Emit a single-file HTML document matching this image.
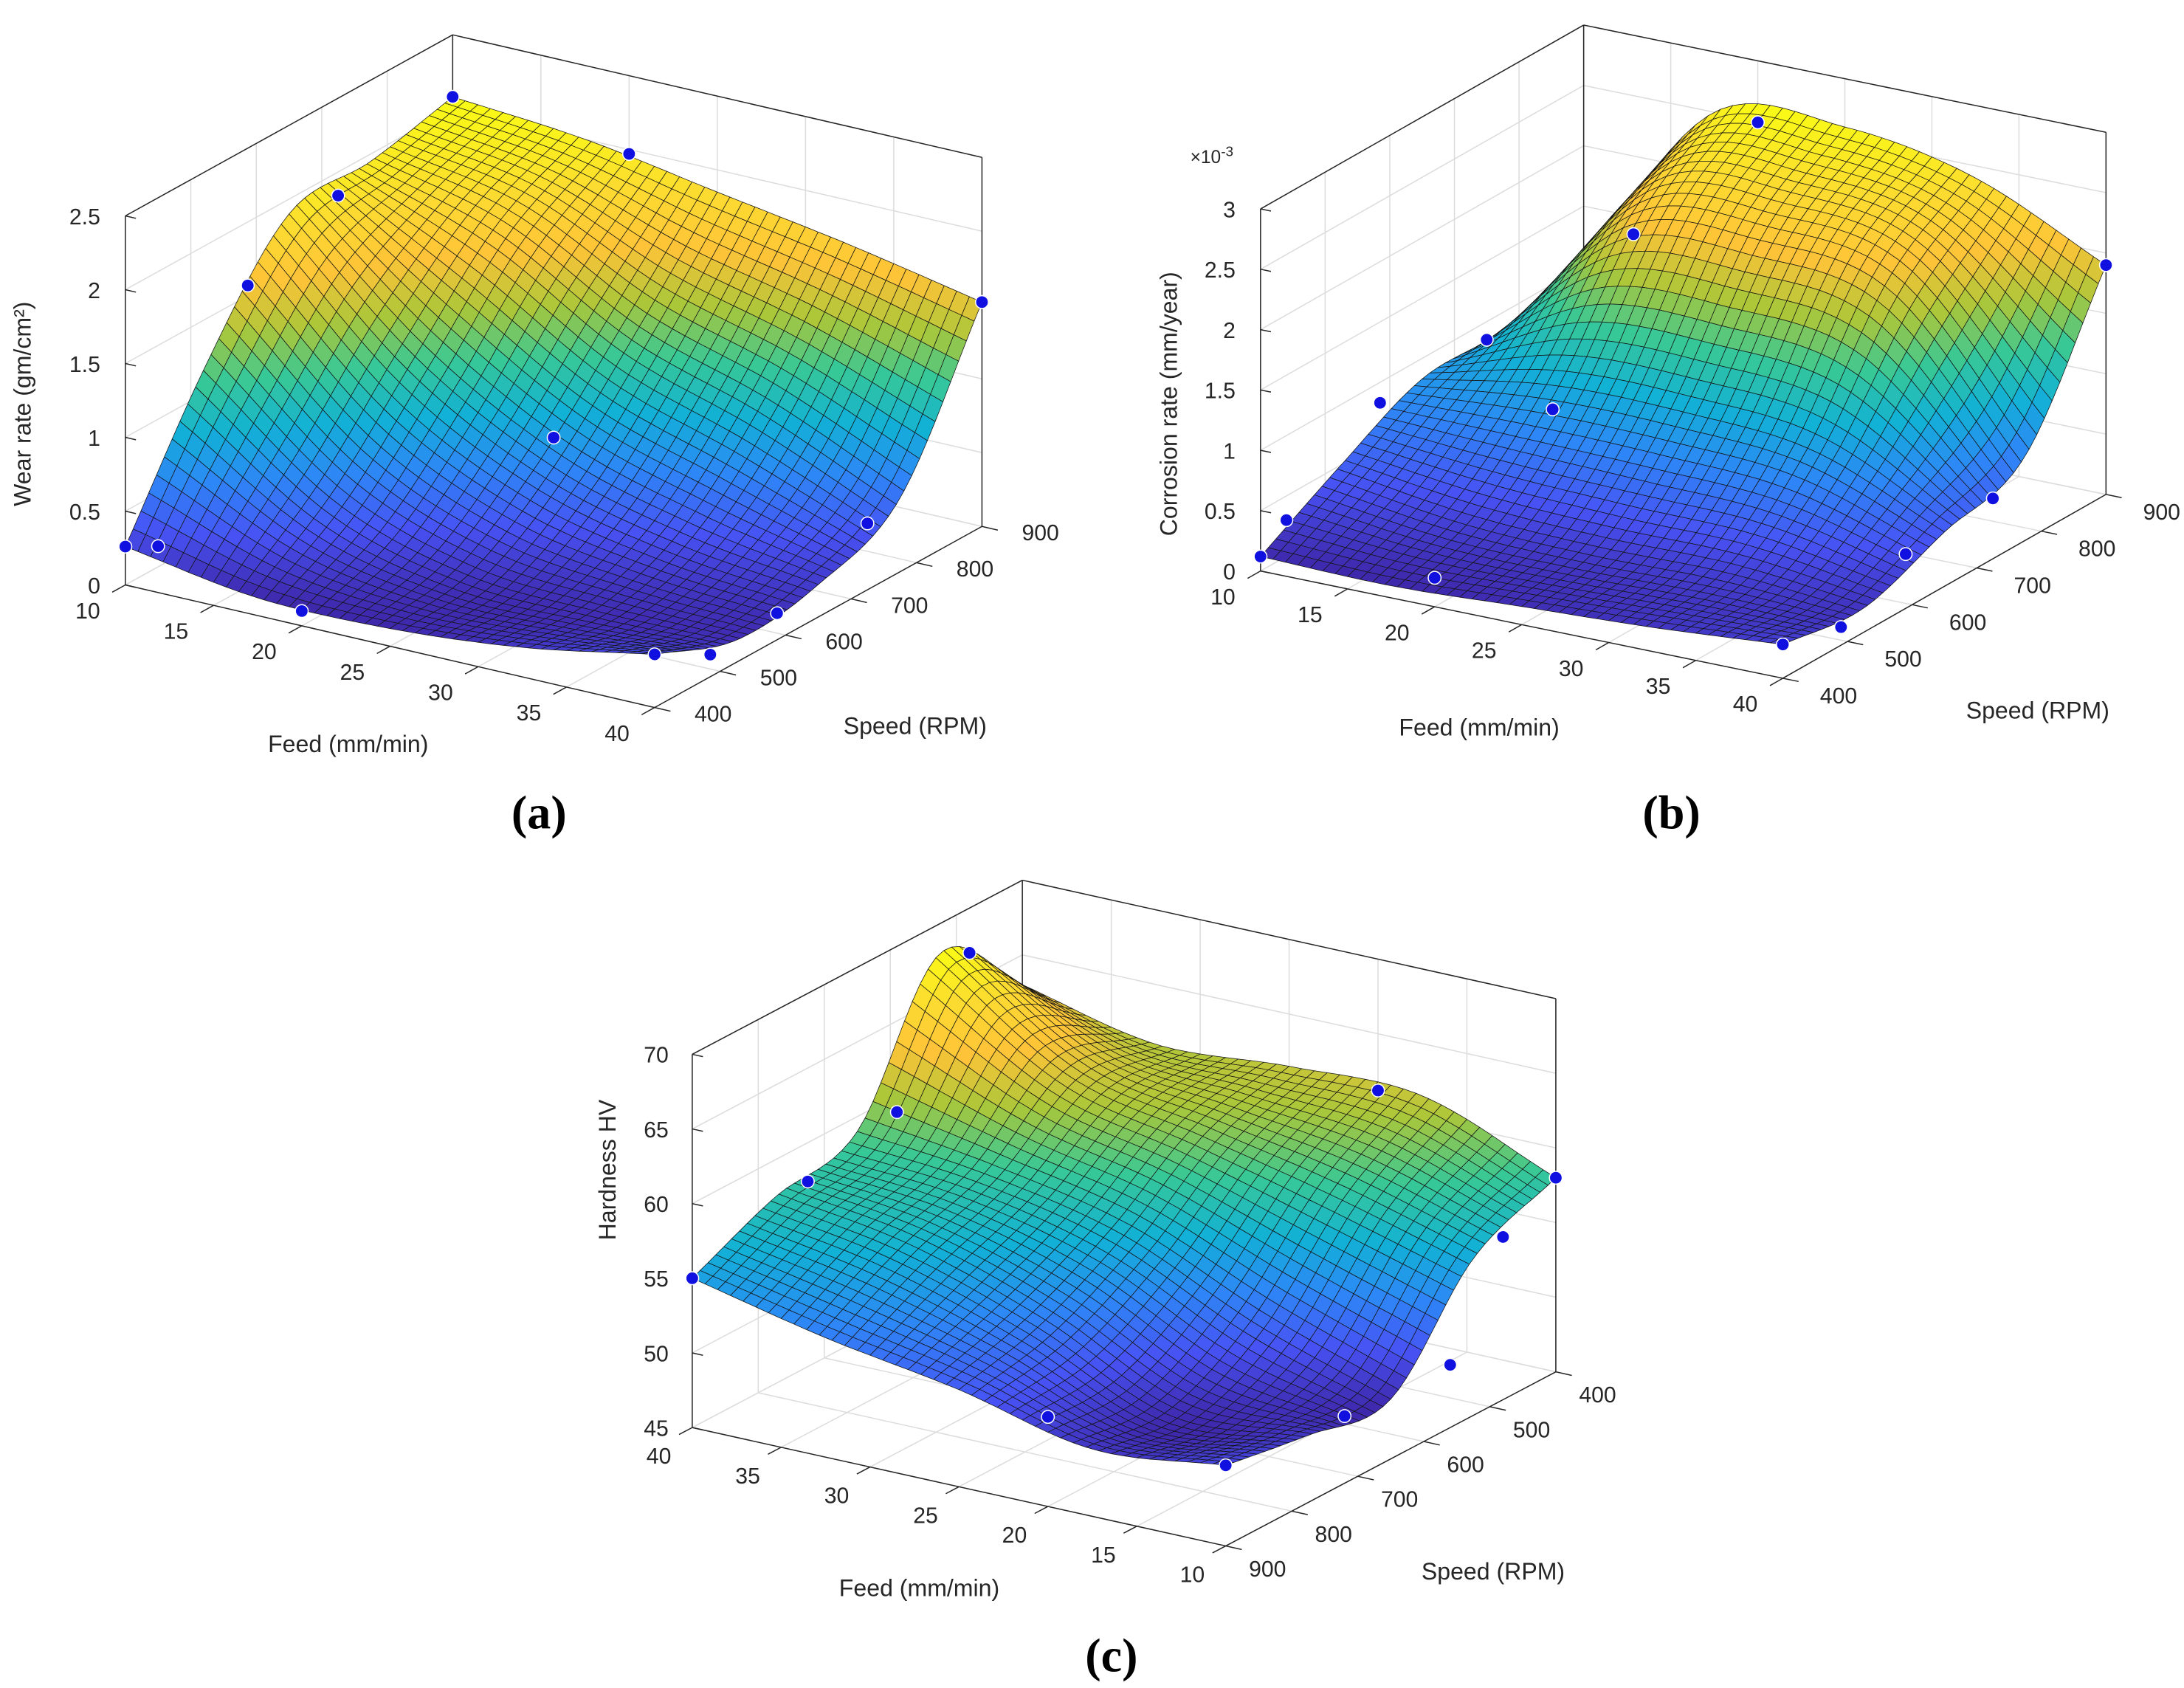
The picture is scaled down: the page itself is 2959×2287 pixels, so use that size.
<!DOCTYPE html>
<html><head><meta charset="utf-8"><style>
html,body{margin:0;padding:0;background:#fff;}
svg{display:block;}
text{font-family:"Liberation Sans",sans-serif;fill:#262626;}
.cap{font-family:"Liberation Serif",serif;font-weight:bold;fill:#000;}
</style></head><body>
<svg id="fig" xmlns="http://www.w3.org/2000/svg" width="2959" height="2287" viewBox="0 0 1568 1212" preserveAspectRatio="none">
<text class="cap" x="387" y="595" font-size="34" text-anchor="middle">(a)</text>
<text class="cap" x="1200" y="595" font-size="34" text-anchor="middle">(b)</text>
<text class="cap" x="798" y="1200" font-size="34" text-anchor="middle">(c)</text>
</svg>
<script>
const feedLevels=[10,17.5,25,32.5,40];
const speedLevels=[400,525,650,775,900];
const feedTicks=[10,15,20,25,30,35,40];
const speedTicks=[400,500,600,700,800,900];
const wearRate=[
[0.26,1.2,1.9,1.95,2.08],
[0.12,0.5,1.1,1.7,2.0],
[0.12,0.2,0.6,1.2,1.85],
[0.2,0.15,0.35,0.9,1.7],
[0.36,0.15,0.22,0.5,1.52]];
const corrosionRate=[
[0.12,0.5,0.83,0.85,1.05],
[0.1,0.35,1.0,2.0,2.5],
[0.15,0.3,1.0,2.1,2.6],
[0.2,0.3,0.9,1.9,2.4],
[0.28,0.2,0.45,0.7,1.9]];
const hardness=[
[58,55.5,49,49.5,50.4],
[61.5,58,52,49,49.5],
[61.5,60,56,53,51.5],
[61,62,58,56,53],
[63,68,59,57.5,55]];
const wearDots=[[10,400,0.26],[10,450,0.14],[10,587,1.57],[10,725,1.84],[10,900,2.08],[20,900,1.97],[40,900,1.52],[40,725,0.45],[40,587,0.18],[40,485,0.15],[40,400,0.36],[20,400,0.1],[25,650,0.8]];
const corrosionDots=[[10,400,0.12],[10,440,0.3],[10,585,0.83],[10,750,0.85],[20,900,2.49],[40,900,1.9],[40,400,0.28],[40,490,0.15],[40,590,0.45],[40,725,0.5],[20,400,0.24],[17.5,775,1.87],[17.5,650,0.8]];
const hardnessDots=[[40,900,55],[10,900,50.4],[10,400,58],[10,480,55.9],[10,560,49.2],[10,720,49.5],[20,400,61.2],[40,480,67],[40,590,58.9],[40,725,57.4],[20,900,51]];
const zTicksA=[0,0.5,1,1.5,2,2.5];
const zTicksB=[0,0.5,1,1.5,2,2.5,3];
const zTicksC=[45,50,55,60,65,70];

const charts=[
{key:'wear',grid:wearRate,dots:wearDots,zt:zTicksA,O:[90,420],fV:[380,88],sV:[235,-130],zMin:0,zMax:2.5,zPx:265,rev:false,
 zLab:'Wear rate (gm/cm²)',zLabPos:[22,290],zLX:72,fLab:[250,540],sLab:[657,527],fOff:[-27,24],sOff:[42,10]},
{key:'corrosion',grid:corrosionRate,dots:corrosionDots,zt:zTicksB,O:[905,410],fV:[375,77],sV:[232,-132],zMin:0,zMax:3,zPx:260,rev:false,
 zLab:'Corrosion rate (mm/year)',zLabPos:[845,290],zLX:887,fLab:[1062,528],sLab:[1463,516],fOff:[-27,24],sOff:[40,18],exp:true},
{key:'hardness',grid:hardness,dots:hardnessDots,zt:zTicksC,O:[497,1025],fV:[383,85],sV:[237,-125],zMin:45,zMax:70,zPx:268,rev:true,
 zLab:'Hardness HV',zLabPos:[442,840],zLX:480,fLab:[660,1146],sLab:[1072,1134],fOff:[-24,26],sOff:[30,22]}
];
const NS='http://www.w3.org/2000/svg';
const svg=document.getElementById('fig');
function el(tag,attrs,parent){const e=document.createElementNS(NS,tag);for(const k in attrs)e.setAttribute(k,attrs[k]);(parent||svg).appendChild(e);return e;}
const parula=[[0,.2422,.1504,.6603],[.125,.2810,.3228,.9579],[.25,.1786,.5289,.9682],[.375,.0689,.6948,.8394],[.5,.2161,.7843,.5923],[.625,.6720,.7793,.2227],[.75,.9970,.7659,.2199],[.875,.9900,.8600,.1900],[1,.9769,.9839,.0805]];
function cmap(t){t=Math.max(0,Math.min(1,t));for(let i=0;i<parula.length-1;i++){const a=parula[i],b=parula[i+1];if(t<=b[0]){const f=(t-a[0])/(b[0]-a[0]);return 'rgb('+[1,2,3].map(k=>Math.round(255*(a[k]+(b[k]-a[k])*f))).join(',')+')';}}return 'rgb(249,251,20)';}
function cr(p,t){const [p0,p1,p2,p3]=p;return 0.5*((2*p1)+(-p0+p2)*t+(2*p0-5*p1+4*p2-p3)*t*t+(-p0+3*p1-3*p2+p3)*t*t*t);}
function samp(arr,x){const n=arr.length;const s=x*(n-1);let i=Math.min(n-2,Math.floor(s));const t=s-i;const g=k=>{if(k<0)return 2*arr[0]-arr[1];if(k>n-1)return 2*arr[n-1]-arr[n-2];return arr[k];};return cr([g(i-1),g(i),g(i+1),g(i+2)],t);}
function surf(grid,u,v){const col=grid.map(r=>samp(r,v));return samp(col,u);}
charts.forEach(c=>{
 const g=el('g',{});
 
 
 const fu=f=>c.rev?(40-f)/30:(f-10)/30;
 const sv=s=>c.rev?(900-s)/500:(s-400)/500;
 const P=(u,v,z)=>[c.O[0]+u*c.fV[0]+v*c.sV[0],c.O[1]+u*c.fV[1]+v*c.sV[1]-(z-c.zMin)/(c.zMax-c.zMin)*c.zPx];
 const line=(a,b,st,w,name)=>{const l=el('line',{x1:a[0],y1:a[1],x2:b[0],y2:b[1],stroke:st,'stroke-width':w},g);return l;};
 const GC='#dcdcdc';
 c.zt.forEach(z=>{line(P(0,0,z),P(0,1,z),GC,0.8,'grid-line');line(P(0,1,z),P(1,1,z),GC,0.8,'grid-line');});
 feedTicks.forEach(f=>{const u=fu(f);line(P(u,0,c.zMin),P(u,1,c.zMin),GC,0.8,'grid-line');line(P(u,1,c.zMin),P(u,1,c.zMax),GC,0.8,'grid-line');});
 speedTicks.forEach(s=>{const v=sv(s);line(P(0,v,c.zMin),P(1,v,c.zMin),GC,0.8,'grid-line');line(P(0,v,c.zMin),P(0,v,c.zMax),GC,0.8,'grid-line');});
 const BC='#262626';
 line(P(0,0,c.zMin),P(0,0,c.zMax),BC,0.8,'z-axis-line');
 line(P(0,1,c.zMin),P(0,1,c.zMax),BC,0.8,'box-edge');
 line(P(1,1,c.zMin),P(1,1,c.zMax),BC,0.8,'box-edge');
 line(P(0,0,c.zMax),P(0,1,c.zMax),BC,0.8,'box-edge');
 line(P(0,1,c.zMax),P(1,1,c.zMax),BC,0.8,'box-edge');
 line(P(0,0,c.zMin),P(1,0,c.zMin),BC,0.8,'feed-axis-line');
 line(P(1,0,c.zMin),P(1,1,c.zMin),BC,0.8,'speed-axis-line');
 const tx=(x,y,s,anchor,name,size)=>{const t=el('text',{x:x,y:y,'font-size':size||16,'text-anchor':anchor},g);t.textContent=s;return t;};
 c.zt.forEach(z=>{const p=P(0,0,z);line(p,[p[0]+c.fV[0]*0.02,p[1]+c.fV[1]*0.02],BC,0.8,'z-tick');tx(c.zLX,p[1]+6,String(z),'end','z-tick-label');});
 feedTicks.forEach(f=>{const p=P(fu(f),0,c.zMin);line(p,[p[0]-c.sV[0]*0.04,p[1]-c.sV[1]*0.04],BC,0.8,'feed-tick');tx(p[0]+c.fOff[0],p[1]+c.fOff[1],String(f),'middle','feed-tick-label');});
 speedTicks.forEach(s=>{const p=P(1,sv(s),c.zMin);line(p,[p[0]+c.fV[0]*0.03,p[1]+c.fV[1]*0.03],BC,0.8,'speed-tick');tx(p[0]+c.sOff[0],p[1]+c.sOff[1],String(s),'middle','speed-tick-label');});
 const zl=tx(c.zLabPos[0],c.zLabPos[1],c.zLab,'middle','z-axis-title',17);zl.setAttribute('transform','rotate(-90 '+c.zLabPos[0]+' '+c.zLabPos[1]+')');
 tx(c.fLab[0],c.fLab[1],'Feed (mm/min)','middle','feed-axis-title',17);
 tx(c.sLab[0],c.sLab[1],'Speed (RPM)','middle','speed-axis-title',17);
 if(c.exp){const e=tx(870,117,'×10','middle','z-exponent',13);const ts=el('tspan',{dy:-5,'font-size':10},e);ts.textContent='-3';}
 const N=42;const Z=[];let mn=1e9,mx=-1e9;
 for(let i=0;i<=N;i++){Z.push([]);for(let j=0;j<=N;j++){const z=surf(c.grid,i/N,j/N);Z[i].push(z);mn=Math.min(mn,z);mx=Math.max(mx,z);}}
 const quads=[];
 for(let i=0;i<N;i++)for(let j=0;j<N;j++){
  const fa=i/N,fb=(i+1)/N,sa=j/N,sb=(j+1)/N;
  const U=f=>c.rev?1-f:f;const V=s=>c.rev?1-s:s;
  const pts=[P(U(fa),V(sa),Z[i][j]),P(U(fb),V(sa),Z[i+1][j]),P(U(fb),V(sb),Z[i+1][j+1]),P(U(fa),V(sb),Z[i][j+1])];
  const zc=(Z[i][j]+Z[i+1][j]+Z[i+1][j+1]+Z[i][j+1])/4;
  const fl=P(U((fa+fb)/2),V((sa+sb)/2),c.zMin);
  quads.push({pts,zc,d:fl[1]});
 }
 quads.sort((a,b)=>a.d-b.d);
 const sg=el('g',{},g);
 
 
 quads.forEach(q=>{el('polygon',{points:q.pts.map(p=>p[0].toFixed(1)+','+p[1].toFixed(1)).join(' '),fill:cmap((q.zc-mn)/(mx-mn)),stroke:'#151515','stroke-width':0.4,'stroke-linejoin':'round'},sg);});
 c.dots.forEach(d=>{const p=P(fu(d[0]),sv(d[1]),d[2]);const ci=el('circle',{cx:p[0],cy:p[1],r:4.6,fill:'#1010e0',stroke:'#fff','stroke-width':0.8},g);});
});
</script>
</body></html>
